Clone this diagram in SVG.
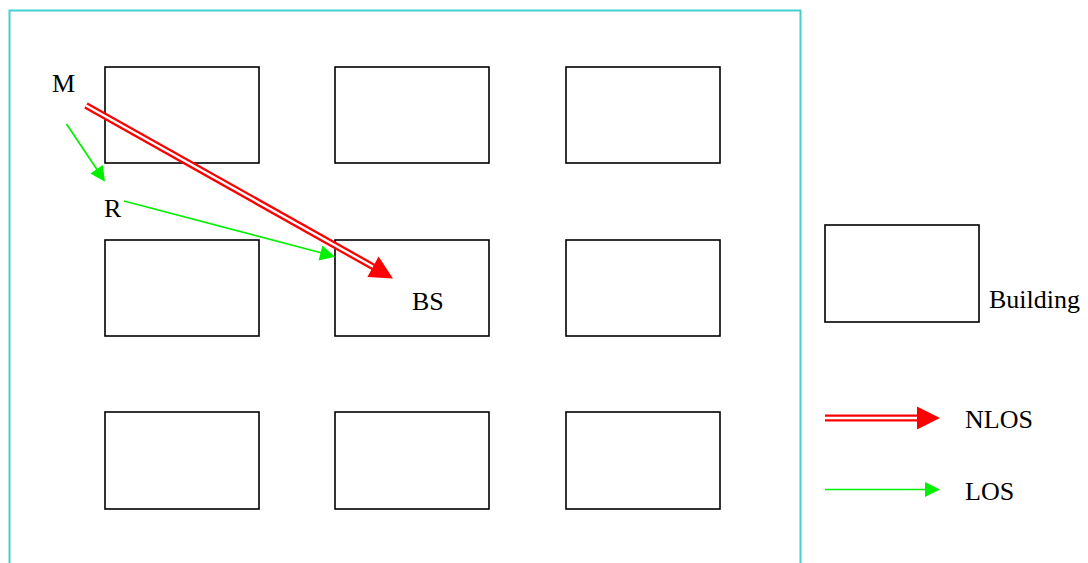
<svg xmlns="http://www.w3.org/2000/svg" width="1088" height="563" viewBox="0 0 1088 563">
<style>
.bld{fill:#fff;stroke:#000;stroke-width:1.6}
.lbl{font-family:"Liberation Serif","Times New Roman",serif;font-size:26px;fill:#000}
.nl-o{stroke:#f00;stroke-width:7;fill:none}
.nl-i{stroke:#fff;stroke-width:2.4;fill:none}
.los{stroke:#00f000;stroke-width:1.7;fill:none}
.hr{fill:#f00}
.hg{fill:#00f000}
</style>
<rect width="1088" height="563" fill="#fff"/>
<rect id="area" x="9.5" y="10.5" width="791" height="570" fill="none" stroke="#45cfcf" stroke-width="2"/>
<g id="buildings">
<g id="b11"><rect class="bld" x="105" y="67" width="154" height="96"/></g>
<g id="b12"><rect class="bld" x="335" y="67" width="154" height="96"/></g>
<g id="b13"><rect class="bld" x="566" y="67" width="154" height="96"/></g>
<g id="b21"><rect class="bld" x="105" y="240" width="154" height="96"/></g>
<g id="bs"><rect class="bld" x="335" y="240" width="154" height="96"/><text class="lbl" x="412" y="310">BS</text></g>
<g id="b23"><rect class="bld" x="566" y="240" width="154" height="96"/></g>
<g id="b31"><rect class="bld" x="105" y="412" width="154" height="97"/></g>
<g id="b32"><rect class="bld" x="335" y="412" width="154" height="97"/></g>
<g id="b33"><rect class="bld" x="566" y="412" width="154" height="97"/></g>
</g>
<g id="m"><text class="lbl" x="52" y="92">M</text></g>
<g id="r"><text class="lbl" x="104" y="217">R</text></g>
<g id="connectors">
<line class="nl-o" x1="86" y1="105.5" x2="373.5" y2="267"/>
<line class="nl-i" x1="86" y1="105.5" x2="373.5" y2="267"/>
<polygon class="hr" points="393,278.5 367.4,277 378.6,256.5"/>
<line class="los" x1="66.5" y1="124" x2="98" y2="171"/>
<polygon class="hg" points="105,181.7 90.4,173.4 102.8,165"/>
<line class="los" x1="124" y1="201" x2="322" y2="253"/>
<polygon class="hg" points="335,256.7 318.6,260.6 322.4,245.4"/>
</g>
<g id="legend">
<g id="leg-building"><rect class="bld" x="825" y="225" width="154" height="97"/><text class="lbl" x="989" y="308">Building</text></g>
<g id="leg-nlos">
<line class="nl-o" x1="825" y1="418" x2="918" y2="418"/>
<line class="nl-i" x1="825" y1="418" x2="918" y2="418"/>
<polygon class="hr" points="917,406.5 940,418 917,429.5"/>
<text class="lbl" x="965" y="428">NLOS</text>
</g>
<g id="leg-los">
<line class="los" x1="825" y1="489.5" x2="926" y2="489.5"/>
<polygon class="hg" points="925,482 940,489.5 925,497"/>
<text class="lbl" x="965" y="500">LOS</text>
</g>
</g>
</svg>
